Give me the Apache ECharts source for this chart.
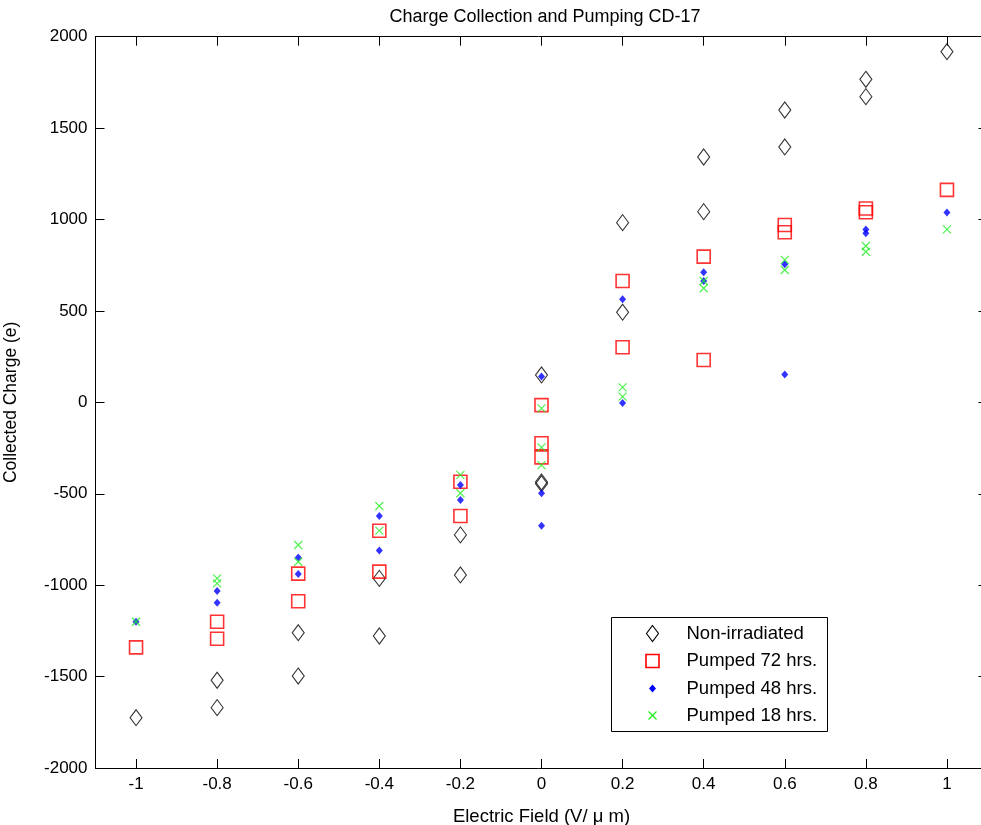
<!DOCTYPE html>
<html>
<head>
<meta charset="utf-8">
<script src="https://cdn.jsdelivr.net/npm/echarts@6/dist/echarts.min.js"></script>
<style>
  html, body { margin: 0; padding: 0; background: #fff; }
  #chart { width: 981px; height: 825px; }
</style>
</head>
<body>
<div id="chart"></div>
<script>
// Electric field values (V/um) and collected charge (e) per sample
const fieldNonIrr = [-1, -0.8, -0.8, -0.6, -0.6, -0.4, -0.4, -0.2, -0.2, 0, 0, 0, 0.2, 0.2, 0.4, 0.4, 0.6, 0.6, 0.8, 0.8, 1];
const chargeNonIrr = [-1725, -1520, -1670, -1260, -1497, -963, -1278, -725, -944, 150, -435, -445, 983, 493, 1342, 1043, 1599, 1397, 1767, 1672, 1918];

const field72 = [-1, -0.8, -0.8, -0.6, -0.6, -0.4, -0.4, -0.2, -0.2, 0, 0, 0, 0.2, 0.2, 0.4, 0.4, 0.6, 0.6, 0.8, 0.8, 1];
const charge72 = [-1340, -1200, -1293, -937, -1088, -702, -926, -434, -622, -15, -224, -301, 664, 301, 797, 232, 970, 930, 1060, 1040, 1162];

const field48 = [-1, -0.8, -0.8, -0.6, -0.6, -0.4, -0.4, -0.2, -0.2, 0, 0, 0, 0.2, 0.2, 0.4, 0.4, 0.6, 0.6, 0.8, 0.8, 1];
const charge48 = [-1200, -1032, -1096, -848, -939, -622, -811, -452, -534, 141, -497, -675, 564, -4, 711, 664, 755, 153, 946, 925, 1039];

const field18 = [-1, -0.8, -0.8, -0.6, -0.6, -0.4, -0.4, -0.2, -0.2, 0, 0, 0, 0.2, 0.2, 0.4, 0.4, 0.6, 0.6, 0.8, 0.8, 1];
const charge18 = [-1200, -963, -990, -780, -872, -567, -702, -397, -497, -33, -246, -343, 82, 31, 664, 624, 779, 724, 855, 824, 946];

const xTicks = [-1, -0.8, -0.6, -0.4, -0.2, 0, 0.2, 0.4, 0.6, 0.8, 1];
const xTickLabels = ['-1', '-0.8', '-0.6', '-0.4', '-0.2', '0', '0.2', '0.4', '0.6', '0.8', '1'];
const legendNames = ['Non-irradiated', 'Pumped 72 hrs.', 'Pumped 48 hrs.', 'Pumped 18 hrs.'];

const FONT = '"Liberation Sans", Arial, sans-serif';
const pairs = (xs, ys) => xs.map((x, i) => [x, ys[i]]);

const chart = echarts.init(document.getElementById('chart'), null, { renderer: 'canvas' });

const tickLabelStyle = { color: '#000', fontFamily: FONT, fontSize: 17 };
const lineStyle = { color: '#000', width: 1 };

const xLabelMap = {};
xTicks.forEach((v, i) => { xLabelMap[v.toFixed(1)] = xTickLabels[i]; });

const crossPath = 'path://M0,0L10,10M10,0L0,10';

const option = {
  animation: false,
  backgroundColor: '#fff',
  title: {
    text: 'Charge Collection and Pumping CD-17',
    left: 540, top: 3, textAlign: 'center',
    textStyle: { fontFamily: FONT, fontSize: 18, fontWeight: 'normal', color: '#000' }
  },
  grid: { left: 95.5, right: -6.5, top: 36.7, bottom: 57, containLabel: false, outerBoundsMode: 'none' },
  xAxis: [
    {
      type: 'value', min: -1.1, max: 1.1, position: 'bottom',
      name: 'Electric Field (V/ \u03bc m)', nameLocation: 'middle', nameGap: 39,
      nameTextStyle: { fontFamily: FONT, fontSize: 18.5, color: '#000' },
      axisLine: { show: true, onZero: false, lineStyle },
      axisTick: { show: true, inside: true, length: 9, lineStyle, customValues: xTicks },
      axisLabel: {
        show: true, margin: 8, ...tickLabelStyle, customValues: xTicks,
        formatter: v => xLabelMap[Number(v).toFixed(1)]
      },
      splitLine: { show: false }
    },
    {
      type: 'value', min: -1.1, max: 1.1, position: 'top',
      axisLine: { show: true, onZero: false, lineStyle },
      axisTick: { show: true, inside: true, length: 9, lineStyle, customValues: xTicks },
      axisLabel: { show: false },
      splitLine: { show: false }
    }
  ],
  yAxis: [
    {
      type: 'value', min: -2000, max: 2000, interval: 500, position: 'left',
      name: 'Collected Charge (e)', nameLocation: 'middle', nameGap: 75,
      nameTextStyle: { fontFamily: FONT, fontSize: 17.5, color: '#000' },
      axisLine: { show: true, onZero: false, lineStyle },
      axisTick: { show: true, inside: true, length: 9, lineStyle },
      axisLabel: { show: true, margin: 8, ...tickLabelStyle, formatter: v => String(v) },
      splitLine: { show: false }
    },
    {
      type: 'value', min: -2000, max: 2000, interval: 500, position: 'right',
      axisLine: { show: true, onZero: false, lineStyle },
      axisTick: { show: true, inside: true, length: 9, lineStyle },
      axisLabel: { show: false },
      splitLine: { show: false }
    }
  ],
  series: [
    {
      name: legendNames[0], type: 'scatter', data: pairs(fieldNonIrr, chargeNonIrr),
      symbol: 'diamond', symbolSize: [12, 16],
      itemStyle: { color: 'rgba(0,0,0,0)', borderColor: '#000', borderWidth: 1.1 },
      emphasis: { disabled: true }, z: 2
    },
    {
      name: legendNames[1], type: 'scatter', data: pairs(field72, charge72),
      symbol: 'rect', symbolSize: 13,
      itemStyle: { color: 'rgba(0,0,0,0)', borderColor: '#ff0000', borderWidth: 1.6 },
      emphasis: { disabled: true }, z: 3
    },
    {
      name: legendNames[2], type: 'scatter', data: pairs(field48, charge48),
      symbol: 'diamond', symbolSize: [7, 8],
      itemStyle: { color: '#0000ff' },
      emphasis: { disabled: true }, z: 4
    },
    {
      name: legendNames[3], type: 'scatter', data: pairs(field18, charge18),
      symbol: crossPath, symbolSize: 8,
      itemStyle: { color: 'rgba(0,0,0,0)', borderColor: '#22ee22', borderWidth: 1.2 },
      emphasis: { disabled: true }, z: 5
    }
  ],
  graphic: [
    {
      type: 'group', left: 611, top: 617, z: 100,
      children: [
        { type: 'rect', shape: { x: 0, y: 0, width: 216, height: 114 },
          style: { fill: '#fff', stroke: '#000', lineWidth: 1 } },
        // diamond icon
        { type: 'polygon', shape: { points: [[41, 8], [47, 16], [41, 24], [35, 16]] },
          style: { fill: 'none', stroke: '#000', lineWidth: 1.1 } },
        // square icon
        { type: 'rect', shape: { x: 34.5, y: 37, width: 13, height: 13 },
          style: { fill: 'none', stroke: '#ff0000', lineWidth: 1.6 } },
        // dot icon
        { type: 'polygon', shape: { points: [[41, 67], [44.5, 71], [41, 75], [37.5, 71]] },
          style: { fill: '#0000ff' } },
        // cross icon
        { type: 'polyline', shape: { points: [[37, 94], [45, 102]] },
          style: { stroke: '#22ee22', lineWidth: 1.2 } },
        { type: 'polyline', shape: { points: [[45, 94], [37, 102]] },
          style: { stroke: '#22ee22', lineWidth: 1.2 } },
        ...legendNames.map((n, i) => ({
          type: 'text', x: 75, y: 16 + i * 27.5,
          style: { text: n, fill: '#000', font: '18.5px ' + FONT, textVerticalAlign: 'middle', verticalAlign: 'middle' }
        }))
      ]
    }
  ]
};

chart.setOption(option);
</script>
</body>
</html>
